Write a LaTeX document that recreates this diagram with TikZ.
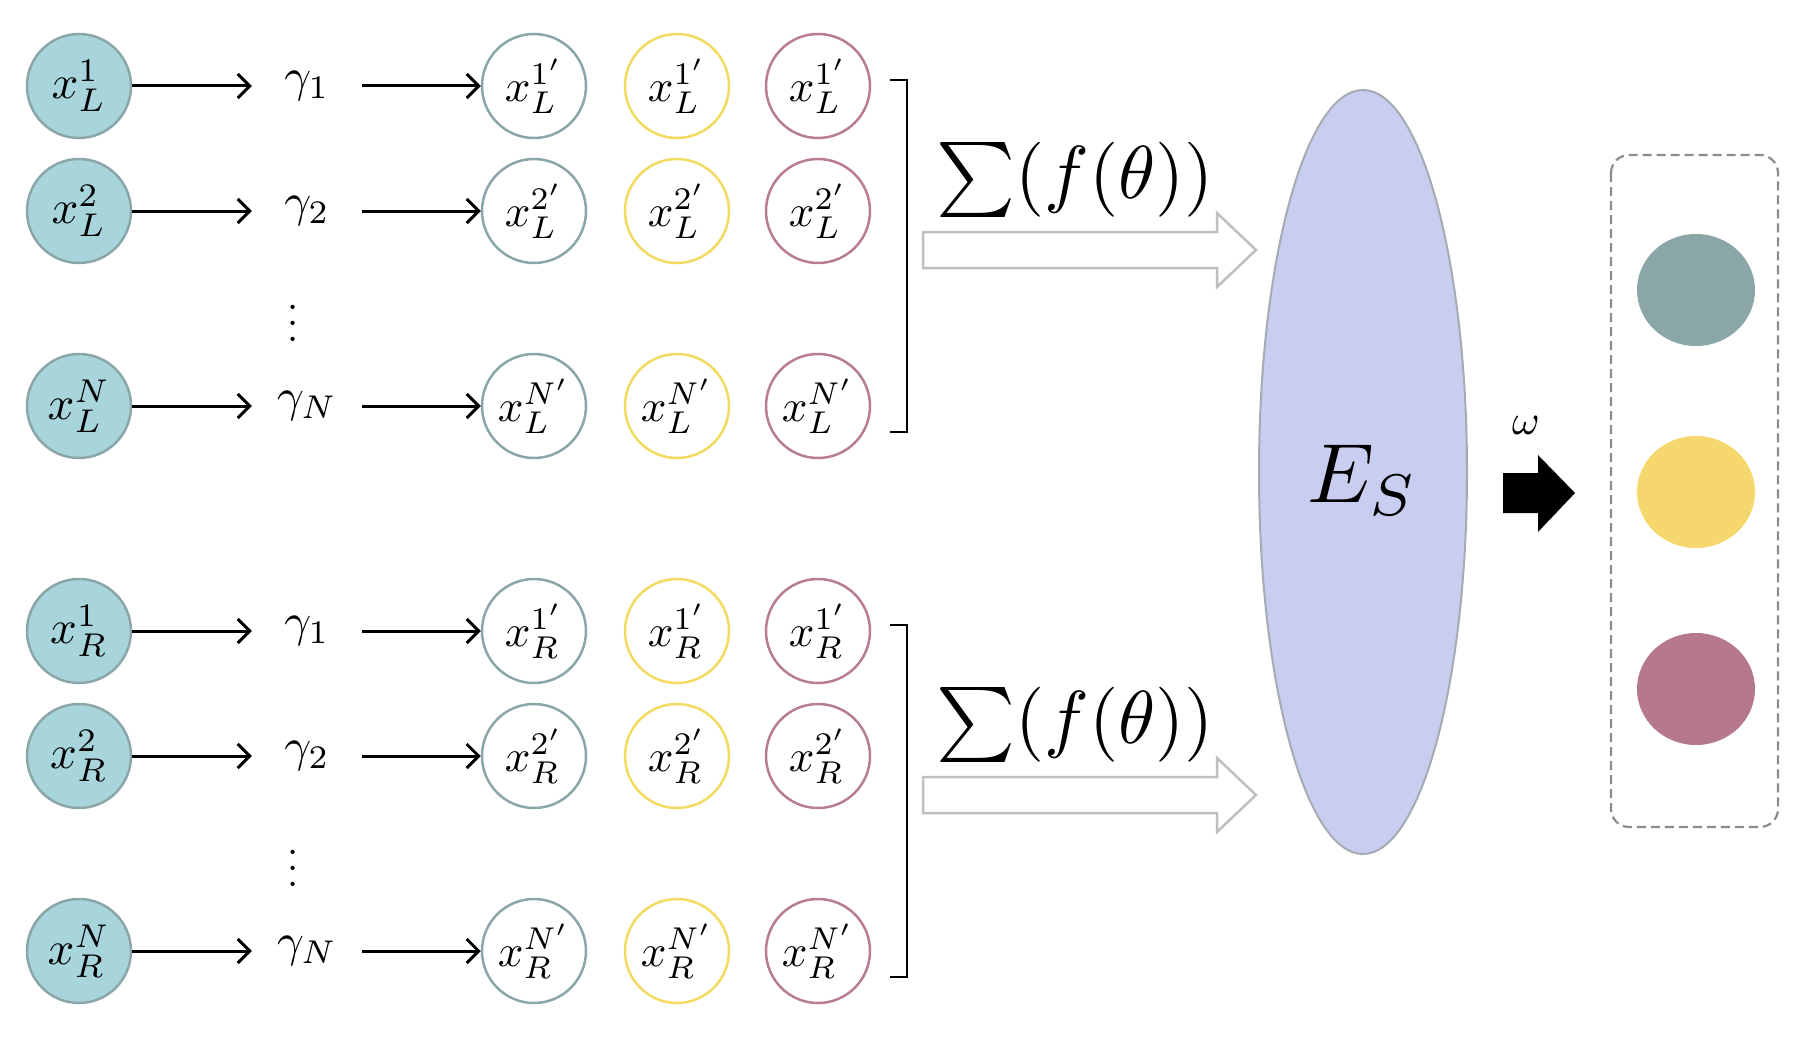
\documentclass[tikz,border=0pt]{standalone}
\usepackage{amsmath}
\usetikzlibrary{arrows.meta,shapes.geometric}
\newcommand{\sbx}[2]{\scalebox{#1}{$#2$}}
\definecolor{tealfill}{HTML}{A8D5DC}
\definecolor{tealline}{HTML}{8BA6A8}
\definecolor{yel}{HTML}{F3DA60}
\definecolor{pnk}{HTML}{B87D90}
\definecolor{esfill}{HTML}{C9CDEF}
\definecolor{esline}{HTML}{A4ABB3}
\definecolor{outT}{HTML}{8AA6A6}
\definecolor{outY}{HTML}{F5D76E}
\definecolor{outP}{HTML}{B5788C}
\tikzset{
 x=1pt,y=-1pt,
 incirc/.style={circle,minimum size=104pt,inner sep=0pt,line width=2.5pt,draw=tealline,fill=tealfill},
 ocirc/.style={circle,minimum size=104pt,inner sep=0pt,line width=2.5pt,fill=white},
 gam/.style={minimum width=110pt,inner sep=0pt},
 arr/.style={line width=3pt,-{Straight Barb[length=12pt,width=24pt,line width=3pt]}},
 brk/.style={line width=2.5pt},
 hollow/.style={draw=black!25,line width=2.5pt,fill=white},
}
\begin{document}
\begin{tikzpicture}
\useasboundingbox (0,0) rectangle (1807,1046);
\foreach \s/\yy in {L/0,R/545}{
 \foreach \i/\r/\su in {1/86/1,2/211/2,3/406/N}{
  \node[incirc] (a\s\i) at (79,\r+\yy) {\sbx{4.7}{x_\s^{\su}}};
  \node[gam] (g\s\i) at (307,\r+\yy) {\sbx{4.7}{\gamma_{\su}}};
  \node[ocirc,draw=tealline] (t\s\i) at (534,\r+\yy) {\sbx{4.5}{x_\s^{\su'}}};
  \node[ocirc,draw=yel] (y\s\i) at (677,\r+\yy) {\sbx{4.5}{x_\s^{\su'}}};
  \node[ocirc,draw=pnk] (p\s\i) at (818,\r+\yy) {\sbx{4.5}{x_\s^{\su'}}};
  \draw[arr] (a\s\i.east) -- (g\s\i.west);
  \draw[arr] (g\s\i.east) -- (t\s\i.west);
 }
 \node[inner sep=0pt] (d\s) at (293,311+\yy) {\sbx{4}{\vdots}};
 \coordinate (bt\s) at (890,80+\yy);
 \coordinate (bb\s) at (890,432+\yy);
 \draw[brk] (bt\s) -- ++(17,0) |- (bb\s);
 \draw[hollow] (923,232+\yy) -- (1217,232+\yy) -- (1217,213+\yy) -- (1256,250+\yy) -- (1217,287+\yy) -- (1217,268+\yy) -- (923,268+\yy) -- cycle;
 \node (s\s) at (1075,180+\yy) {\sbx{7.5}{\sum(f(\theta))}};
}
\node[ellipse,draw=esline,line width=2pt,fill=esfill,minimum width=208pt,minimum height=764pt,inner sep=0pt] (es) at (1363,472) {};
\node (est) at (1363,480) {\sbx{8.4}{E_S}};
\node (om) at (1526,425) {\sbx{4.2}{\omega}};
\fill (1503,473) -- (1538,473) -- (1538,455) -- (1575,493) -- (1538,532) -- (1538,513) -- (1503,513) -- cycle;
\draw[black!45,dash pattern=on 9pt off 5pt,line width=2.2pt,rounded corners=18pt] (1611,155) rectangle (1778,827);
\node[ellipse,fill=outT,minimum width=118pt,minimum height=112pt] (o1) at (1696,290) {};
\node[ellipse,fill=outY,minimum width=118pt,minimum height=112pt] (o2) at (1696,492) {};
\node[ellipse,fill=outP,minimum width=118pt,minimum height=112pt] (o3) at (1696,689) {};
\end{tikzpicture}
\end{document}
